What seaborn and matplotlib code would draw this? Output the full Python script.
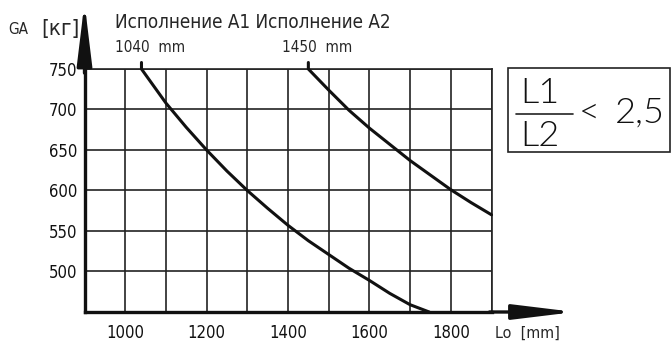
import matplotlib
matplotlib.use("Agg")
import matplotlib.pyplot as plt
import seaborn as sns
import pandas as pd

# curve A1 (Lo = 1040 mm at 750 kg) and A2 (Lo = 1450 mm at 750 kg)
a1_lo = [1040, 1040, 1100, 1150, 1200, 1250, 1300, 1350, 1400, 1450, 1500, 1550, 1600, 1650, 1700, 1747]
a1_ga = [758, 750, 708, 678, 650, 624, 600, 578, 557, 538, 521, 504, 489, 473, 459, 450]
a2_lo = [1450, 1450, 1500, 1550, 1600, 1650, 1700, 1750, 1800, 1850, 1900]
a2_ga = [758, 750, 724, 699, 677, 657, 637, 619, 601, 585, 570]

x_grid = [900, 1000, 1100, 1200, 1300, 1400, 1500, 1600, 1700, 1800, 1900]
x_labels = ["", "1000", "", "1200", "", "1400", "", "1600", "", "1800", ""]
y_grid = [450, 500, 550, 600, 650, 700, 750]
y_labels = ["", "500", "550", "600", "650", "700", "750"]

sns.set_style("white")
plt.rcParams["font.family"] = ["DejaVu Sans"]
plt.rcParams["font.stretch"] = "condensed"

W, H = 672, 343
fig = plt.figure(figsize=(W / 100, H / 100), dpi=100)
ax = fig.add_axes([84.5 / W, 1 - 312 / H, 407 / W, 243 / H])

df = pd.concat([
    pd.DataFrame({"Lo": a1_lo, "GA": a1_ga, "curve": "A1"}),
    pd.DataFrame({"Lo": a2_lo, "GA": a2_ga, "curve": "A2"}),
])
sns.lineplot(data=df, x="Lo", y="GA", units="curve", estimator=None, sort=False,
             color="#111111", linewidth=2.2, ax=ax, clip_on=False, zorder=4)

ax.set_xlim(900, 1900)
ax.set_ylim(450, 750)
ax.set_xticks(x_grid)
ax.set_xticklabels(x_labels)
ax.set_yticks(y_grid)
ax.set_yticklabels(y_labels)
ax.tick_params(axis="both", length=0, labelsize=12, colors="#111111")
ax.tick_params(axis="y", pad=5)
ax.tick_params(axis="x", pad=9)
ax.grid(True, color="#222222", linewidth=1.2)
ax.set_xlabel("")
ax.set_ylabel("")
for side in ["top", "right"]:
    ax.spines[side].set_color("#222222")
    ax.spines[side].set_linewidth(1.2)
for side in ["left", "bottom"]:
    ax.spines[side].set_color("#111111")
    ax.spines[side].set_linewidth(2.4)
    ax.spines[side].set_zorder(5)

# axis arrows
arrow = dict(arrowstyle="-|>,head_length=3.7,head_width=0.45", color="#111111",
             lw=2.4, shrinkA=0, shrinkB=0, mutation_scale=10)
ax.annotate("", xy=(900, 832), xytext=(900, 745), arrowprops=arrow, annotation_clip=False)
ax.annotate("", xy=(2105, 450), xytext=(1895, 450), arrowprops=arrow, annotation_clip=False)


def px(x, y):
    return x / W, 1 - y / H


fig.text(*px(8, 30), "GA", fontsize=11, va="center", ha="left")
fig.text(*px(41, 29), "[кг]", fontsize=16, va="center", ha="left")
fig.text(*px(115, 22), "Исполнение А1 Исполнение А2", fontsize=13.5, va="center", ha="left")
fig.text(*px(115, 47), "1040  mm", fontsize=11, va="center", ha="left")
fig.text(*px(282, 47), "1450  mm", fontsize=11, va="center", ha="left")
fig.text(*px(495, 333), "Lo  [mm]", fontsize=11.5, va="center", ha="left")

# L1/L2 < 2,5 box
box = plt.Rectangle(px(508, 152), 162 / W, 84 / H, transform=fig.transFigure,
                    fill=False, edgecolor="#222222", linewidth=1.2)
fig.add_artist(box)
fig.add_artist(plt.Line2D([516 / W, 573 / W], [1 - 114 / H, 1 - 114 / H],
                          transform=fig.transFigure, color="#222222", linewidth=1.2))
frac = dict(fontsize=26, fontweight=300, va="center", ha="center",
            family=["Lato", "DejaVu Sans"], color="#111111", fontstretch="normal")
fig.text(*px(540, 93), "L1", **frac)
fig.text(*px(540, 136), "L2", **frac)
fig.text(*px(589, 113), "<", **frac)
fig.text(*px(640, 113), "2,5", **frac)

fig.savefig("out.png", dpi=100)
